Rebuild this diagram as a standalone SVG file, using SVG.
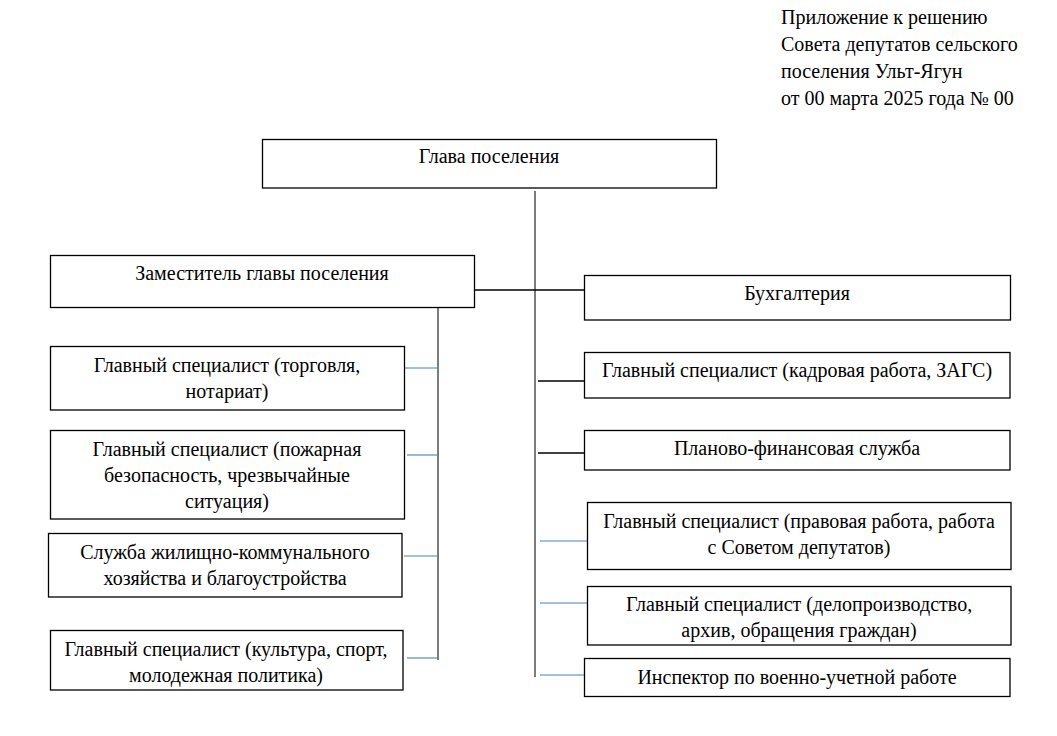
<svg xmlns="http://www.w3.org/2000/svg" width="1057" height="736" viewBox="0 0 1057 736">
<style>
.box{fill:#fff;stroke:#000;stroke-width:1.3}
text{font-family:'Liberation Serif','Times New Roman','DejaVu Serif',serif;font-size:20px;fill:#000}
.c{text-anchor:middle}
.k{stroke:#000;stroke-width:1.3;fill:none}
.g{stroke:#505050;stroke-width:1.5;fill:none}
.b{stroke:#4a7ebb;stroke-width:1.1;fill:none}
</style>
<rect width="1057" height="736" fill="#fff"/>
<g id="header">
<text x="781" y="24">Приложение к решению</text>
<text x="781" y="51">Совета депутатов сельского</text>
<text x="781" y="78">поселения Ульт-Ягун</text>
<text x="781" y="105">от 00 марта 2025 года № 00</text>
</g>
<g id="connectors">
<line class="g" x1="535" y1="191" x2="535" y2="677"/>
<line class="k" x1="475" y1="290" x2="587" y2="290"/>
<line class="g" x1="438" y1="307" x2="438" y2="660"/>
<line class="b" x1="405" y1="368" x2="438" y2="368"/>
<line class="b" x1="407" y1="455" x2="438" y2="455"/>
<line class="b" x1="404" y1="556" x2="438" y2="556"/>
<line class="b" x1="407" y1="658" x2="438" y2="658"/>
<line class="k" x1="538" y1="381" x2="585" y2="381"/>
<line class="k" x1="538" y1="453" x2="585" y2="453"/>
<line class="b" x1="540" y1="541" x2="587" y2="541"/>
<line class="b" x1="540" y1="603" x2="587" y2="603"/>
<line class="b" x1="540" y1="675" x2="585" y2="675"/>
</g>
<g id="n-glava"><rect class="box" x="262.5" y="139.5" width="454" height="48.5"/><text class="c" x="489" y="163">Глава поселения</text></g>
<g id="n-zam"><rect class="box" x="50.5" y="255.5" width="424" height="52"/><text class="c" x="262" y="280">Заместитель главы поселения</text></g>
<g id="n-buh"><rect class="box" x="584.5" y="275.5" width="426" height="44.5"/><text class="c" x="797" y="300">Бухгалтерия</text></g>
<g id="n-torg"><rect class="box" x="50.5" y="346.5" width="354" height="63.5"/><text class="c" x="227" y="372">Главный специалист (торговля,</text><text class="c" x="227" y="398">нотариат)</text></g>
<g id="n-pozh"><rect class="box" x="50.5" y="430.5" width="354" height="88.5"/><text class="c" x="227" y="456">Главный специалист (пожарная</text><text class="c" x="227" y="482">безопасность, чрезвычайные</text><text class="c" x="227" y="508">ситуация)</text></g>
<g id="n-zhkh"><rect class="box" x="48.5" y="533.5" width="353.5" height="63.5"/><text class="c" x="225" y="559">Служба жилищно-коммунального</text><text class="c" x="225" y="585">хозяйства и благоустройства</text></g>
<g id="n-kult"><rect class="box" x="50.5" y="630.5" width="352.5" height="59.5"/><text class="c" x="226" y="656">Главный специалист (культура, спорт,</text><text class="c" x="226" y="682">молодежная политика)</text></g>
<g id="n-kadr"><rect class="box" x="584.5" y="352.5" width="425.5" height="45.5"/><text class="c" x="797" y="377">Главный специалист (кадровая работа, ЗАГС)</text></g>
<g id="n-plan"><rect class="box" x="584.5" y="430.5" width="425.5" height="39.5"/><text class="c" x="797" y="455">Планово-финансовая служба</text></g>
<g id="n-prav"><rect class="box" x="587.5" y="502.5" width="423.5" height="67"/><text class="c" x="799" y="528">Главный специалист (правовая работа, работа</text><text class="c" x="799" y="554">с Советом депутатов)</text></g>
<g id="n-delo"><rect class="box" x="587.5" y="586.5" width="423.5" height="58.5"/><text class="c" x="799" y="611">Главный специалист (делопроизводство,</text><text class="c" x="799" y="637">архив, обращения граждан)</text></g>
<g id="n-insp"><rect class="box" x="584.5" y="658.5" width="425.5" height="38"/><text class="c" x="797" y="684">Инспектор по военно-учетной работе</text></g>
</svg>
